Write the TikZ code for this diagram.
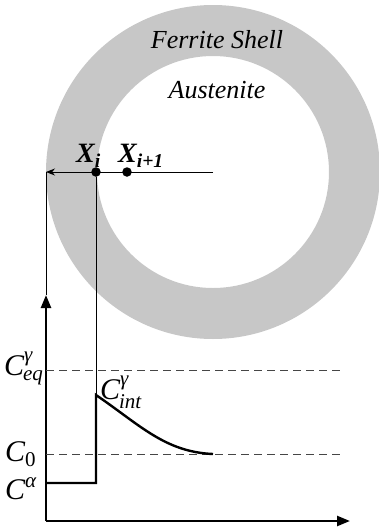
\documentclass[tikz,border=0pt]{standalone}
\usepackage{amsmath}
\usepackage{fontspec}
\setmainfont{Liberation Serif}
\usetikzlibrary{arrows.meta}
\definecolor{shellgray}{RGB}{199,199,199}
\definecolor{levelgray}{RGB}{70,70,70}
\newcommand{\conc}[2]{$\textit{C}^{\textit{#1}}_{\mkern-1mu\textit{#2}}$}
\begin{document}
\begin{tikzpicture}[x=1pt,y=-1pt,
  phase/.style={font=\fontsize{26}{30}\selectfont\itshape, inner sep=0pt, anchor=base},
  poslbl/.style={font=\fontsize{28}{32}\selectfont\bfseries\itshape, inner sep=0pt, anchor=base west},
  clabel/.style={font=\fontsize{30}{34}\selectfont, inner sep=0pt, anchor=base west},
  dot/.style={circle, fill=black, inner sep=0pt, minimum size=9.5pt},
  guide/.style={line width=0.9pt},
  axis/.style={line width=2.4pt},
  profile/.style={line width=2.4pt},
  level/.style={levelgray, line width=0.9pt, dash pattern=on 8pt off 5pt}]
\useasboundingbox (0,0) rectangle (379,531);
% ferrite shell round the austenite grain
\fill[shellgray, even odd rule] (213,172) circle[radius=167] (213,172) circle[radius=116];
\node[phase] (ferrite) at (217,48) {Ferrite Shell};
\node[phase] (austenite) at (217,98) {Austenite};

% radial grid
\coordinate (ctr) at (213,172);
\coordinate (rim) at (46,172);
\draw[guide, -{Stealth[length=9pt,width=7pt]}] (ctr) -- (rim);
\node[dot] (xi) at (96,172) {};
\node[dot] (xn) at (127,172) {};
\node[poslbl] (xilbl) at (76,162) {X$_{\textbf{\textit{i}}}$};
\node[poslbl] (xnlbl) at (118,162) {X$_{\textbf{\textit{i+1}}}$};

% concentration axes
\coordinate (org) at (46,521);
\coordinate (ytip) at (46,295);
\coordinate (xtip) at (350,521);
\draw[guide] (rim) -- (ytip);
\draw[axis, -{Triangle[length=13pt,width=10pt]}] (org) -- (ytip);
\draw[axis, -{Triangle[length=13pt,width=10pt]}] (org) -- (xtip);

% levels
\coordinate (eqL) at (46,370);
\coordinate (eqR) at (340,370);
\coordinate (c0L) at (46,454);
\coordinate (c0R) at (340,454);
\draw[level] (eqL) -- (eqR);
\draw[level] (c0L) -- (c0R);

% profile
\coordinate (fa) at (46,483);
\coordinate (fb) at (96,483);
\coordinate (peak) at (96,395);
\coordinate (tail) at (213,454);
\draw[guide] (xi) -- (peak);
\draw[profile, line join=miter] (fa) -- (fb) -- (peak)
  .. controls (140,425) and (165,452) .. (tail);

\node[clabel] (ceq) at (4,375) {\conc{γ}{eq}};
\node[clabel] (cint) at (100,399) {\conc{γ}{int}};
\node[clabel] (czero) at (5,461) {$\textit{C}_{\text{0}}$};
\node[clabel] (calpha) at (5,499) {$\textit{C}^{\textit{α}}$};
\end{tikzpicture}
\end{document}
